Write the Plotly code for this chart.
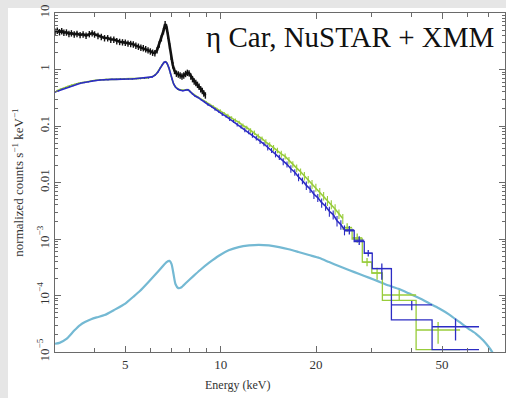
import plotly.graph_objects as go

# XMM-Newton EPIC spectrum (keV, normalized counts s^-1 keV^-1)
xmm_energy = [3.00, 3.05, 3.10, 3.15, 3.20, 3.26, 3.32, 3.38, 3.45, 3.52, 3.60, 3.68,
              3.76, 3.85, 3.93, 4.00, 4.10, 4.20, 4.30, 4.40, 4.50, 4.60, 4.70, 4.80,
              4.90, 5.00, 5.10, 5.20, 5.30, 5.40, 5.50, 5.60, 5.70, 5.80, 5.90, 6.00,
              6.10, 6.20, 6.30, 6.40, 6.50, 6.60, 6.68, 6.75, 6.82, 6.90, 6.98, 7.06,
              7.15, 7.25, 7.35, 7.45, 7.55, 7.65, 7.75, 7.85, 7.95, 8.05, 8.15, 8.25,
              8.35, 8.45, 8.55, 8.65, 8.75, 8.85, 8.95]
xmm_counts = [4.7, 4.9, 4.6, 4.8, 4.5, 4.55, 4.3, 4.4, 4.2, 4.3, 4.1, 4.2,
              4.0, 4.25, 4.4, 4.2, 3.95, 3.8, 3.6, 3.6, 3.4, 3.4, 3.2, 3.1,
              3.05, 3.0, 2.9, 2.85, 2.8, 2.65, 2.55, 2.45, 2.4, 2.3, 2.2, 2.1,
              2.0, 1.95, 2.2, 2.8, 3.6, 4.8, 6.4, 5.6, 4.0, 2.6, 1.7, 1.2,
              0.95, 0.85, 0.82, 0.79, 0.76, 0.79, 0.84, 0.88, 0.86, 0.76, 0.68, 0.62,
              0.58, 0.54, 0.50, 0.45, 0.42, 0.38, 0.35]

# NuSTAR FPMA spectrum and fractional uncertainties
fpma_energy = [3.00, 3.08, 3.16, 3.24, 3.33, 3.42, 3.51, 3.61, 3.71, 3.82, 3.93, 4.04,
               4.16, 4.28, 4.41, 4.54, 4.68, 4.82, 4.96, 5.11, 5.26, 5.42, 5.58, 5.75,
               5.92, 6.08, 6.22, 6.34, 6.44, 6.54, 6.62, 6.70, 6.78, 6.86, 6.94, 7.02,
               7.10, 7.20, 7.32, 7.46, 7.60, 7.74, 7.88, 8.00, 8.14, 8.30, 8.48, 8.68,
               8.90, 9.12, 9.36, 9.60, 9.86, 10.12, 10.40, 10.68, 10.98, 11.28, 11.60, 11.92,
               12.26, 12.60, 12.96, 13.32, 13.70, 14.08, 14.48, 14.90, 15.32, 15.76, 16.20, 16.66,
               17.14, 17.62, 18.12, 18.64, 19.16, 19.70, 20.26, 20.84, 21.44, 22.04, 22.66, 23.30,
               23.96, 24.60]
fpma_counts = [0.40, 0.42, 0.45, 0.47, 0.50, 0.52, 0.55, 0.57, 0.59, 0.61, 0.63, 0.64,
               0.65, 0.66, 0.66, 0.67, 0.67, 0.68, 0.67, 0.68, 0.68, 0.69, 0.69, 0.70,
               0.71, 0.74, 0.80, 0.90, 1.05, 1.22, 1.33, 1.37, 1.28, 1.08, 0.86, 0.68,
               0.56, 0.49, 0.45, 0.43, 0.42, 0.43, 0.44, 0.41, 0.37, 0.34, 0.32, 0.29,
               0.27, 0.240, 0.220, 0.198, 0.180, 0.162, 0.148, 0.133, 0.121, 0.106, 0.097, 0.085,
               0.078, 0.069, 0.061, 0.054, 0.048, 0.042, 0.037, 0.032, 0.028, 0.0235, 0.021, 0.0175,
               0.0152, 0.0125, 0.0108, 0.0089, 0.0077, 0.0062, 0.0054, 0.0044, 0.0038, 0.0031, 0.0027, 0.0021,
               0.0018, 0.00145]
fpma_err = [0.03] * 0 + [0.03, 0.03, 0.03, 0.03, 0.03, 0.03, 0.03, 0.03, 0.03, 0.03, 0.03, 0.03,
            0.03, 0.03, 0.03, 0.03, 0.03, 0.03, 0.03, 0.03, 0.03, 0.03, 0.03, 0.03,
            0.03, 0.03, 0.03, 0.03, 0.03, 0.03, 0.03, 0.03, 0.03, 0.03, 0.03, 0.03,
            0.03, 0.03, 0.03, 0.03, 0.03, 0.03, 0.03, 0.03, 0.03, 0.03, 0.03, 0.03,
            0.04, 0.05, 0.04, 0.06, 0.05, 0.07, 0.05, 0.08, 0.06, 0.08, 0.07, 0.09,
            0.08, 0.10, 0.09, 0.11, 0.09, 0.12, 0.10, 0.13, 0.11, 0.14, 0.12, 0.15,
            0.13, 0.16, 0.14, 0.17, 0.15, 0.18, 0.16, 0.19, 0.17, 0.20, 0.18, 0.21,
            0.19, 0.20]

# NuSTAR FPMB spectrum and fractional uncertainties
fpmb_energy = [3.04, 3.12, 3.20, 3.29, 3.38, 3.47, 3.56, 3.66, 3.77, 3.88, 3.99, 4.10,
               4.22, 4.35, 4.48, 4.61, 4.75, 4.89, 5.04, 5.19, 5.34, 5.50, 5.67, 5.84,
               6.00, 6.15, 6.28, 6.39, 6.49, 6.58, 6.66, 6.74, 6.82, 6.90, 6.98, 7.06,
               7.15, 7.26, 7.39, 7.53, 7.67, 7.81, 7.94, 8.07, 8.22, 8.39, 8.58, 8.79,
               9.01, 9.24, 9.48, 9.73, 9.99, 10.26, 10.54, 10.83, 11.13, 11.44, 11.76, 12.09,
               12.43, 12.78, 13.14, 13.51, 13.89, 14.28, 14.69, 15.11, 15.54, 15.98, 16.43, 16.90,
               17.38, 17.88, 18.38, 18.90, 19.43, 19.98, 20.55, 21.14, 21.74, 22.35, 22.98, 23.63,
               24.30]
fpmb_counts = [0.42, 0.45, 0.47, 0.50, 0.53, 0.55, 0.57, 0.59, 0.61, 0.63, 0.64, 0.65,
               0.66, 0.67, 0.67, 0.67, 0.68, 0.68, 0.68, 0.69, 0.69, 0.69, 0.70, 0.71,
               0.73, 0.77, 0.85, 0.97, 1.13, 1.28, 1.36, 1.34, 1.18, 0.97, 0.76, 0.61,
               0.52, 0.47, 0.44, 0.43, 0.43, 0.44, 0.43, 0.39, 0.36, 0.33, 0.31, 0.285,
               0.265, 0.240, 0.220, 0.200, 0.184, 0.168, 0.152, 0.140, 0.126, 0.116, 0.102, 0.094,
               0.083, 0.076, 0.066, 0.060, 0.052, 0.047, 0.041, 0.037, 0.032, 0.029, 0.0245, 0.021,
               0.018, 0.0155, 0.0131, 0.0113, 0.0094, 0.0082, 0.0067, 0.0058, 0.0048, 0.0041, 0.0034, 0.0028,
               0.0023]
fpmb_err = [0.03, 0.03, 0.03, 0.03, 0.03, 0.03, 0.03, 0.03, 0.03, 0.03, 0.03, 0.03,
            0.03, 0.03, 0.03, 0.03, 0.03, 0.03, 0.03, 0.03, 0.03, 0.03, 0.03, 0.03,
            0.03, 0.03, 0.03, 0.03, 0.03, 0.03, 0.03, 0.03, 0.03, 0.03, 0.03, 0.03,
            0.03, 0.03, 0.03, 0.03, 0.03, 0.03, 0.03, 0.03, 0.03, 0.03, 0.03, 0.03,
            0.05, 0.04, 0.06, 0.05, 0.07, 0.05, 0.08, 0.06, 0.08, 0.07, 0.09, 0.08,
            0.10, 0.09, 0.11, 0.09, 0.12, 0.10, 0.13, 0.11, 0.14, 0.12, 0.15, 0.13,
            0.16, 0.14, 0.17, 0.15, 0.18, 0.16, 0.19, 0.17, 0.20, 0.18, 0.21, 0.19,
            0.20]

# Rebinned high-energy NuSTAR points: bin edges, value and 1-sigma range
fpma_bin_lo = [24.6, 26.4, 28.4, 30.1, 34.6, 46.5]
fpma_bin_hi = [26.4, 28.4, 30.1, 34.6, 46.5, 65.4]
fpma_bin_val = [1.45e-3, 9.5e-4, 5.6e-4, 3.0e-4, 6.8e-5, 2.8e-5]
fpma_bin_low = [1.2e-3, 7.8e-4, 4.9e-4, 1.9e-4, 5.5e-5, 1.6e-5]
fpma_bin_high = [1.7e-3, 1.12e-3, 6.4e-4, 3.7e-4, 8.0e-5, 3.9e-5]
fpma_model_edges = [24.6, 26.4, 28.4, 30.1, 34.6, 46.5, 65.4, 72.4]
fpma_model = [1.4e-3, 9.0e-4, 5.6e-4, 3.0e-4, 3.7e-5, 1.1e-5, 1.1e-5]

fpmb_bin_lo = [24.2, 26.0, 28.0, 30.0, 32.4, 41.4]
fpmb_bin_hi = [26.0, 28.0, 30.0, 32.4, 41.4, 57.0]
fpmb_bin_val = [1.6e-3, 1.05e-3, 3.9e-4, 2.5e-4, 1.02e-4, 2.45e-5]
fpmb_bin_low = [1.35e-3, 8.6e-4, 3.3e-4, 1.9e-4, 8.2e-5, 1.4e-5]
fpmb_bin_high = [1.9e-3, 1.25e-3, 4.6e-4, 3.1e-4, 1.25e-4, 3.4e-5]
fpmb_model_edges = [24.2, 26.0, 28.0, 30.0, 32.4, 41.4, 57.0]
fpmb_model = [1.5e-3, 1.0e-3, 3.9e-4, 2.5e-4, 8.2e-5, 1.1e-5, 1.1e-5]

# Absorbed hard component of the model
hard_energy = [3.0, 3.1, 3.26, 3.45, 3.6, 3.73, 3.9, 4.06, 4.3, 4.6, 5.0, 5.3,
               5.56, 5.9, 6.2, 6.5, 6.75, 6.9, 7.0, 7.1, 7.2, 7.35, 7.5, 7.8,
               8.2, 8.6, 9.2, 9.9, 10.6, 11.4, 12.3, 13.2, 14.2, 15.3, 16.4, 17.6,
               19.0, 20.5, 22.0, 23.7, 25.5, 27.4, 29.5, 31.6, 34.0, 36.6, 39.4, 42.3,
               45.5, 49.0, 52.7, 56.7, 60.5, 64.0, 67.5, 70.4, 72.4]
hard_model = [1.4e-5, 1.45e-5, 1.7e-5, 2.4e-5, 3.0e-5, 3.4e-5, 3.8e-5, 4.1e-5, 4.5e-5, 5.5e-5, 7.2e-5, 9.5e-5,
              1.2e-4, 1.7e-4, 2.3e-4, 3.1e-4, 3.9e-4, 4.1e-4, 3.6e-4, 2.4e-4, 1.6e-4, 1.35e-4, 1.38e-4, 1.7e-4,
              2.2e-4, 2.8e-4, 3.8e-4, 5.1e-4, 6.3e-4, 7.2e-4, 7.7e-4, 7.9e-4, 7.7e-4, 7.2e-4, 6.6e-4, 5.9e-4,
              5.2e-4, 4.6e-4, 3.9e-4, 3.3e-4, 2.8e-4, 2.4e-4, 2.05e-4, 1.76e-4, 1.5e-4, 1.3e-4, 1.08e-4, 9.0e-5,
              7.3e-5, 5.9e-5, 4.6e-5, 3.4e-5, 2.6e-5, 2.1e-5, 1.6e-5, 1.2e-5, 9.5e-6]

x_tick_vals = [5, 10, 20, 50]
x_minor_vals = [4, 6, 7, 8, 9, 30, 40, 60, 70]
y_tick_vals = [10, 1, 0.1, 0.01, 1e-3, 1e-4, 1e-5]
y_tick_text = ["10", "1", "0.1", "0.01", "10<sup>−3</sup>", "10<sup>−4</sup>", "10<sup>−5</sup>"]
y_minor_vals = [m * 10.0 ** p for p in range(-5, 1) for m in range(2, 10)]

BLACK = "#111111"
BLUE = "#2c2cc4"
GREEN = "#98cc3a"
CYAN = "#74b9d3"
AXIS = "#6a6a6a"
SERIF = "Liberation Serif, Times New Roman, serif"

fig = go.Figure()


def spectrum(energy, counts, frac, color, width):
    return go.Scatter(
        x=energy, y=counts, mode="lines", line=dict(color=color, width=width),
        error_y=dict(type="data", array=[c * f for c, f in zip(counts, frac)],
                     color=color, thickness=1.1, width=0),
        showlegend=False, hoverinfo="skip")


def binned(lo, hi, val, low, high, color):
    centers = [(a * b) ** 0.5 for a, b in zip(lo, hi)]
    return go.Scatter(
        x=centers, y=val, mode="markers", marker=dict(size=1, color=color),
        error_x=dict(type="data", symmetric=False,
                     array=[h - c for h, c in zip(hi, centers)],
                     arrayminus=[c - l for c, l in zip(centers, lo)],
                     color=color, thickness=1.3, width=0),
        error_y=dict(type="data", symmetric=False,
                     array=[h - v for h, v in zip(high, val)],
                     arrayminus=[v - l for v, l in zip(val, low)],
                     color=color, thickness=1.3, width=0),
        showlegend=False, hoverinfo="skip")


def steps(edges, model, color):
    return go.Scatter(x=edges, y=model, mode="lines",
                      line=dict(color=color, width=1.3, shape="hv"),
                      showlegend=False, hoverinfo="skip")


# hard model component
fig.add_trace(go.Scatter(x=hard_energy, y=hard_model, mode="lines",
                         line=dict(color=CYAN, width=2.2, shape="spline", smoothing=0.6),
                         showlegend=False, hoverinfo="skip"))

# FPMB
fig.add_trace(spectrum(fpmb_energy, fpmb_counts, fpmb_err, GREEN, 1.6))
fig.add_trace(steps(fpmb_model_edges, fpmb_model, GREEN))
fig.add_trace(binned(fpmb_bin_lo, fpmb_bin_hi, fpmb_bin_val, fpmb_bin_low, fpmb_bin_high, GREEN))

# FPMA
fig.add_trace(spectrum(fpma_energy, fpma_counts, fpma_err, BLUE, 1.6))
fig.add_trace(steps(fpma_model_edges, fpma_model, BLUE))
fig.add_trace(binned(fpma_bin_lo, fpma_bin_hi, fpma_bin_val, fpma_bin_low, fpma_bin_high, BLUE))

# XMM
fig.add_trace(go.Scatter(x=xmm_energy, y=xmm_counts, mode="lines",
                         line=dict(color=BLACK, width=2.6),
                         error_y=dict(type="percent", value=13, color=BLACK, thickness=1.4, width=0),
                         showlegend=False, hoverinfo="skip"))

L, R, T, B = 55, 1, 13, 46
W, H = 506, 398
pw, ph = W - L - R, H - T - B


def px(x):
    return (x - L) / pw


def py(y):
    return (H - B - y) / ph


fig.update_layout(
    width=W, height=H,
    margin=dict(l=L, r=R, t=T, b=B, pad=0),
    paper_bgcolor="white", plot_bgcolor="white",
    font=dict(family=SERIF, size=12, color="#333333"),
    xaxis=dict(type="log", range=[0.47712, 1.89763],
               showline=True, linecolor=AXIS, linewidth=1.3, mirror="ticks",
               ticks="inside", ticklen=6, tickwidth=1, tickcolor=AXIS,
               tickmode="array", tickvals=x_tick_vals, ticktext=[str(v) for v in x_tick_vals],
               minor=dict(ticks="inside", ticklen=4, tickwidth=1, tickcolor=AXIS,
                          tickmode="array", tickvals=x_minor_vals, showgrid=False),
               showgrid=False, zeroline=False, tickfont=dict(size=13, color="#333333")),
    yaxis=dict(type="log", range=[-5, 1],
               showline=True, linecolor=AXIS, linewidth=1.3, mirror="ticks",
               ticks="inside", ticklen=6, tickwidth=1, tickcolor=AXIS,
               tickmode="array", tickvals=y_tick_vals, ticktext=y_tick_text,
               tickangle=-90,
               minor=dict(ticks="inside", ticklen=3, tickwidth=1, tickcolor=AXIS,
                          tickmode="array", tickvals=y_minor_vals, showgrid=False),
               showgrid=False, zeroline=False, tickfont=dict(size=13, color="#333333"),
               title=dict(text="normalized counts s<sup>−1</sup> keV<sup>−1</sup>",
                          font=dict(size=13, color="#333333"), standoff=8)),
    shapes=[
        dict(type="rect", xref="paper", yref="paper", layer="below",
             x0=px(-5), x1=px(8), y0=py(H + 5), y1=py(-5),
             fillcolor="#e6e6e6", line=dict(width=0)),
        dict(type="rect", xref="paper", yref="paper", layer="below",
             x0=px(-5), x1=px(W + 5), y0=py(8), y1=py(-5),
             fillcolor="#e6e6e6", line=dict(width=0)),
    ],
    annotations=[
        dict(text="η Car, NuSTAR + XMM", xref="paper", yref="paper",
             x=px(204), y=py(37), xanchor="left", yanchor="middle", showarrow=False,
             font=dict(family=SERIF, size=29, color="#111111")),
        dict(text="Energy (keV)", xref="paper", yref="paper",
             x=px(237), y=py(385), xanchor="center", yanchor="middle", showarrow=False,
             font=dict(family=SERIF, size=12, color="#333333")),
    ],
)

fig.write_html("out.html")
